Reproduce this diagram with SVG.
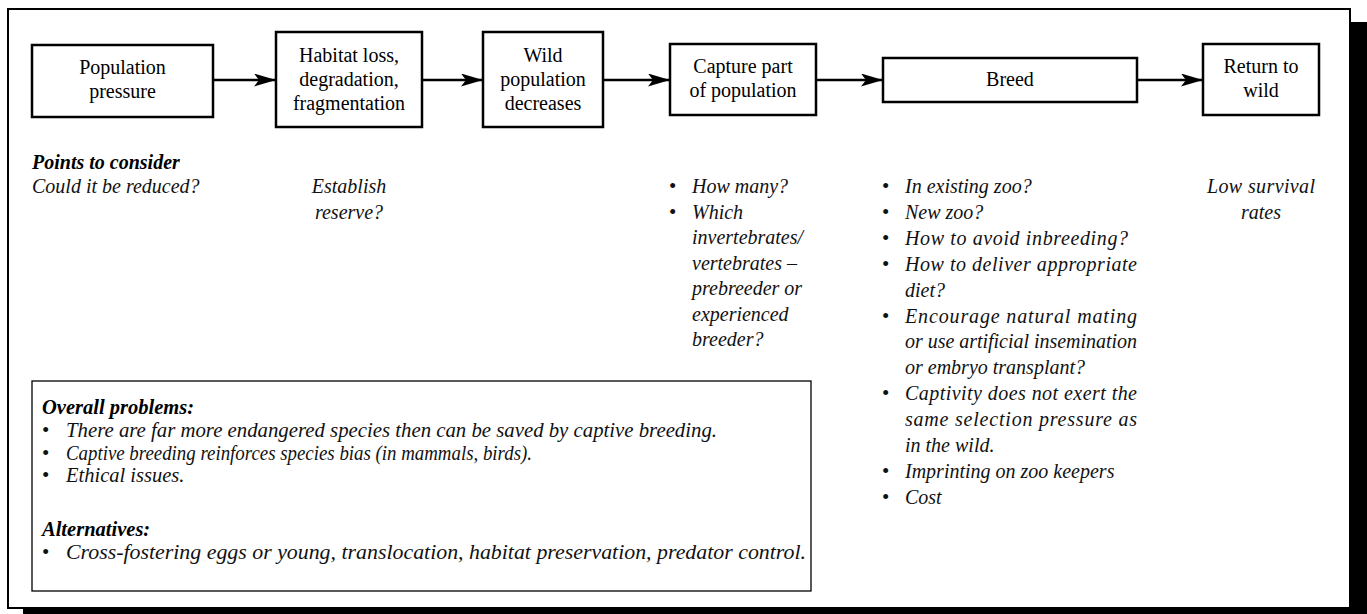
<svg xmlns="http://www.w3.org/2000/svg" width="1367" height="614" viewBox="0 0 1367 614">
<defs>
<style>
.box{fill:#fff;stroke:#000;stroke-width:2.5}
.lbl{font-family:"Liberation Serif","Times New Roman",serif;font-size:20px;fill:#000;text-anchor:middle}
.it{font-family:"Liberation Serif","Times New Roman",serif;font-size:20px;font-style:italic;fill:#111}
.itc{font-family:"Liberation Serif","Times New Roman",serif;font-size:20px;font-style:italic;fill:#111;text-anchor:middle}
.bi{font-family:"Liberation Serif","Times New Roman",serif;font-size:20px;font-style:italic;font-weight:bold;fill:#000}
.bul{font-family:"Liberation Serif","Times New Roman",serif;font-size:21px;fill:#111}
.sm{font-size:20.5px}
.conn{stroke:#000;stroke-width:2.5;fill:none;marker-end:url(#arr)}
</style>
<marker id="arr" markerUnits="userSpaceOnUse" markerWidth="24" markerHeight="14" refX="22" refY="6.5" orient="auto">
<path d="M0,0 L22,6.5 L0,13 L5,6.5 z" fill="#000"/>
</marker>
</defs>
<rect x="0" y="0" width="1367" height="614" fill="#fff"/>
<rect x="1351" y="22" width="16" height="592" fill="#000"/>
<rect x="23" y="609" width="1344" height="5" fill="#000"/>
<rect x="8" y="9" width="1342" height="599" fill="#fff" stroke="#000" stroke-width="2"/>

<g id="connectors">
<line class="conn" x1="213" y1="80" x2="276" y2="80"/>
<line class="conn" x1="422" y1="80" x2="483" y2="80"/>
<line class="conn" x1="603" y1="80" x2="670" y2="80"/>
<line class="conn" x1="816" y1="80" x2="883" y2="80"/>
<line class="conn" x1="1137" y1="80" x2="1203" y2="80"/>
</g>

<g id="node-population">
<rect class="box" x="32" y="45" width="181" height="72"/>
<text class="lbl" x="122.5" y="74">Population</text>
<text class="lbl" x="122.5" y="98">pressure</text>
</g>
<g id="node-habitat">
<rect class="box" x="276" y="32" width="146" height="95"/>
<text class="lbl" x="349" y="62">Habitat loss,</text>
<text class="lbl" x="349" y="86">degradation,</text>
<text class="lbl" x="349" y="110">fragmentation</text>
</g>
<g id="node-wild">
<rect class="box" x="483" y="32" width="120" height="95"/>
<text class="lbl" x="543" y="62">Wild</text>
<text class="lbl" x="543" y="86">population</text>
<text class="lbl" x="543" y="110">decreases</text>
</g>
<g id="node-capture">
<rect class="box" x="670" y="44" width="146" height="71"/>
<text class="lbl" x="743" y="73">Capture part</text>
<text class="lbl" x="743" y="97">of population</text>
</g>
<g id="node-breed">
<rect class="box" x="883" y="58" width="254" height="44"/>
<text class="lbl" x="1010" y="86">Breed</text>
</g>
<g id="node-return">
<rect class="box" x="1203" y="44" width="116" height="71"/>
<text class="lbl" x="1261" y="73">Return to</text>
<text class="lbl" x="1261" y="97">wild</text>
</g>

<g id="points">
<text class="bi" x="32" y="169">Points to consider</text>
<text class="it" x="32" y="193">Could it be reduced?</text>
<text class="itc" x="349" y="193">Establish</text>
<text class="itc" x="349" y="219">reserve?</text>
<text class="itc" x="1261" y="193" textLength="108" lengthAdjust="spacing">Low survival</text>
<text class="itc" x="1261" y="219">rates</text>
</g>

<g id="capture-notes">
<text class="bul" x="669" y="193">•</text>
<text class="it" x="692" y="193">How many?</text>
<text class="bul" x="669" y="218.5">•</text>
<text class="it" x="692" y="218.5">Which</text>
<text class="it" x="692" y="244">invertebrates/</text>
<text class="it" x="692" y="269.5">vertebrates –</text>
<text class="it" x="692" y="295">prebreeder or</text>
<text class="it" x="692" y="320.5">experienced</text>
<text class="it" x="692" y="346">breeder?</text>
</g>

<g id="breed-notes">
<text class="bul" x="882" y="193">•</text>
<text class="it" x="905" y="193">In existing zoo?</text>
<text class="bul" x="882" y="218.9">•</text>
<text class="it" x="905" y="218.9">New zoo?</text>
<text class="bul" x="882" y="244.8">•</text>
<text class="it" x="905" y="244.8" textLength="223" lengthAdjust="spacing">How to avoid inbreeding?</text>
<text class="bul" x="882" y="270.7">•</text>
<text class="it" x="905" y="270.7" textLength="232" lengthAdjust="spacing">How to deliver appropriate</text>
<text class="it" x="905" y="296.6">diet?</text>
<text class="bul" x="882" y="322.5">•</text>
<text class="it" x="905" y="322.5" textLength="232" lengthAdjust="spacing">Encourage natural mating</text>
<text class="it" x="905" y="348.4" textLength="232" lengthAdjust="spacing">or use artificial insemination</text>
<text class="it" x="905" y="374.3">or embryo transplant?</text>
<text class="bul" x="882" y="400.2">•</text>
<text class="it" x="905" y="400.2" textLength="232" lengthAdjust="spacing">Captivity does not exert the</text>
<text class="it" x="905" y="426.1" textLength="232" lengthAdjust="spacing">same selection pressure as</text>
<text class="it" x="905" y="452">in the wild.</text>
<text class="bul" x="882" y="477.9">•</text>
<text class="it" x="905" y="477.9">Imprinting on zoo keepers</text>
<text class="bul" x="882" y="503.8">•</text>
<text class="it" x="905" y="503.8">Cost</text>
</g>

<g id="overall-problems">
<rect x="32" y="381" width="779" height="210" fill="#fff" stroke="#000" stroke-width="1.3"/>
<text class="bi sm" x="42" y="414">Overall problems:</text>
<text class="bul" x="42" y="437">•</text>
<text class="it sm" x="66" y="437" textLength="651" lengthAdjust="spacingAndGlyphs">There are far more endangered species then can be saved by captive breeding.</text>
<text class="bul" x="42" y="460">•</text>
<text class="it sm" x="66" y="460" textLength="466" lengthAdjust="spacingAndGlyphs">Captive breeding reinforces species bias (in mammals, birds).</text>
<text class="bul" x="42" y="482">•</text>
<text class="it sm" x="66" y="482">Ethical issues.</text>
<text class="bi sm" x="42" y="536">Alternatives:</text>
<text class="bul" x="42" y="559">•</text>
<text class="it sm" x="66" y="559" textLength="740" lengthAdjust="spacingAndGlyphs">Cross-fostering eggs or young, translocation, habitat preservation, predator control.</text>
</g>
</svg>
